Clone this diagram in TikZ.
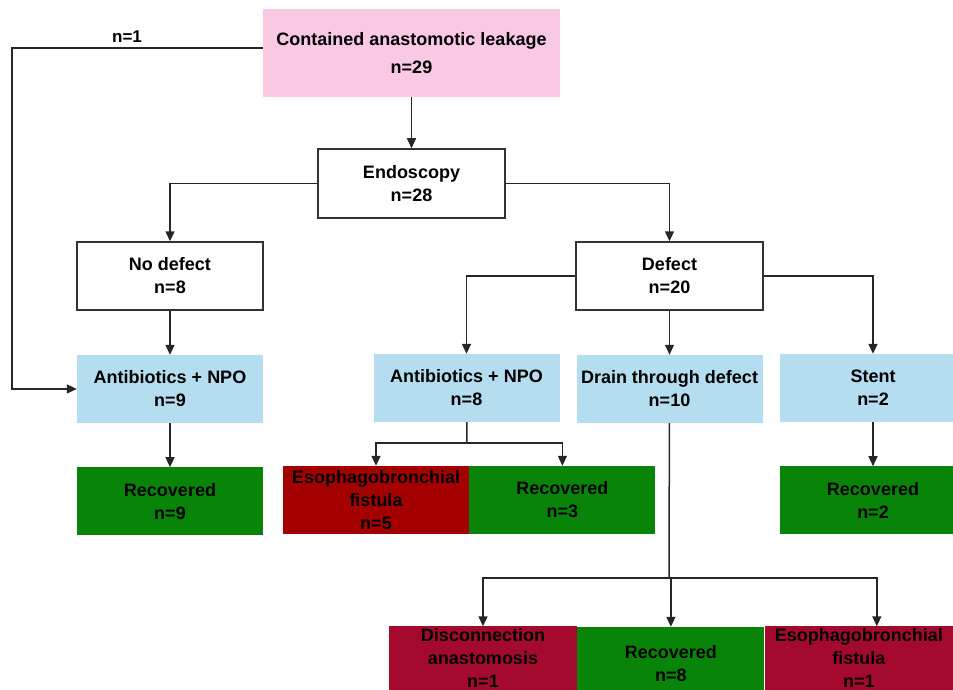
\documentclass[tikz,border=0pt]{standalone}
\usepackage{fontspec}
\setmainfont{Liberation Sans}
\usepackage{tikz}
\usetikzlibrary{positioning, arrows.meta}

\definecolor{leakpink}{RGB}{249,201,227}
\definecolor{treatblue}{RGB}{180,221,240}
\definecolor{okgreen}{RGB}{8,133,8}
\definecolor{badred}{RGB}{165,0,0}
\definecolor{badcrimson}{RGB}{163,10,45}

\tikzset{
  box/.style={align=center, minimum width=186pt, minimum height=68pt, inner sep=2pt,
    font=\fontsize{18}{23}\selectfont\bfseries},
  plainbox/.style={box, draw=black!80, line width=1.5pt, fill=white},
  treatbox/.style={box, fill=treatblue},
  okbox/.style={box, fill=okgreen},
  failbox/.style={box, fill=badred},
  cutbox/.style={box, minimum height=74pt},
  link/.style={draw=black!85, line width=1.5pt},
  >={Triangle[length=10pt,width=9pt]}
}

\begin{document}
\begin{tikzpicture}[x=1pt, y=-1pt]
            \useasboundingbox (0,0) rectangle (953,690);
            \clip (0,0) rectangle (953,690);

            \node[box, fill=leakpink, minimum width=297pt, minimum height=88pt] (cal) at (411.5,53)
              {Contained anastomotic leakage\\[5pt]n=29}; %top
            \node[plainbox, minimum width=187pt, minimum height=69pt] (endo) at (411.5,183.5) {Endoscopy\\n=28};

            \node[plainbox] (nodef) at (170,276) {No defect\\n=8};
            \node[plainbox, minimum width=187pt] (defect) at (669.5,276) {Defect\\n=20};

            \node[treatbox] (abx1) [below=44pt of nodef] {Antibiotics + NPO\\n=9};
            \node[treatbox] (abx2) at (466.5,388) {Antibiotics + NPO\\n=8};
            \node[treatbox] (drain) [below=44pt of defect] {Drain through defect\\n=10};
            \node[treatbox] (stent) at (873,388) {Stent\\n=2};

            \node[okbox] (rec1) [below=44pt of abx1] {Recovered\\n=9};
            \node[failbox] (fist1) at (376,500) {Esophagobronchial\\fistula\\n=5};
            \node[okbox] (rec3) [right=0pt of fist1] {Recovered\\n=3};
            \node[okbox] (rec2) [below=44pt of stent] {Recovered\\n=2};

            % drain outcomes, running past the lower edge
            \node[failbox, cutbox, fill=badcrimson, minimum width=188pt, text depth=12pt] (disc) at (483,664)
              {Disconnection\\anastomosis\\n=1};
            \node[okbox, cutbox, minimum width=187pt] (rec8) [right=0pt of disc] {Recovered\\n=8};
            \node[failbox, cutbox, fill=badcrimson, minimum width=188pt, text depth=12pt] (fist2) [right=0pt of rec8]
              {Esophagobronchial\\fistula\\n=1};

            \node[font=\fontsize{17}{20}\selectfont\bfseries] (n1) at (127,37) {n=1};
            \coordinate (lft) at (12,200);
            \coordinate (s2) at (467,443);
            \coordinate (s3) at (669,578);

            \draw[link, ->] (cal) -- (endo);
            \draw[link, ->] ([yshift=5pt]cal.west) -| (lft) |- (abx1.west);

            \draw[link, ->] (endo.west) -| (nodef);
            \draw[link, ->] (endo.east) -| (defect);

            \draw[link, ->] (nodef) -- (abx1);
            \draw[link, ->] (defect.west) -| (abx2);
            \draw[link, ->] (defect) -- (drain);
            \draw[link, ->] (defect.east) -| (stent);

            \draw[link, ->] (abx1) -- (rec1);
            \draw[link] (abx2) -- (s2);
            \draw[link, ->] (s2) -| (fist1);
            \draw[link, ->] (s2) -| (rec3);
            \draw[link, ->] (stent) -- (rec2);

            \draw[link] (drain) -- (s3);
            \draw[link, ->] (s3) -| (disc);
            \draw[link, ->] (s3) -| (rec8);
            \draw[link, ->] (s3) -| ([xshift=18pt]fist2.north);

\end{tikzpicture}
\end{document}
